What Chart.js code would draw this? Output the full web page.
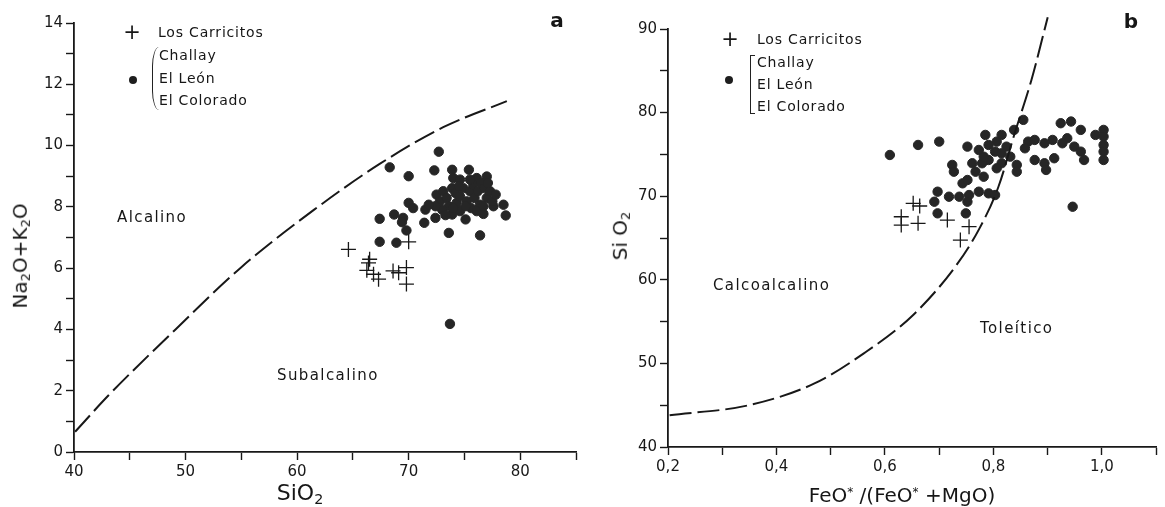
<!DOCTYPE html>
<html>
<head>
<meta charset="utf-8">
<script src="https://cdn.jsdelivr.net/npm/chart.js@4.4.0/dist/chart.umd.min.js"></script>
<style>
    html, body { margin: 0; padding: 0; background: #fff; }
    #wrap { position: relative; width: 1165px; height: 507px; overflow: hidden; font-family: 'DejaVu Sans', sans-serif; color: #161616; }
    .panel { position: absolute; top: 0; height: 507px; }
    #panelA { left: 0; width: 590px; }
    #panelB { left: 590px; width: 575px; }
    .t { position: absolute; white-space: nowrap; line-height: 1; }
    .c { transform: translate(-50%, -50%); }
    .l { transform: translateY(-50%); }
    .r { transform: translate(-50%, -50%) rotate(-90deg); }
    .leg { font-size: 14px; letter-spacing: 0.8px; }
    .zone { font-size: 15px; letter-spacing: 1.4px; }
    .dot { position: absolute; width: 8px; height: 8px; border-radius: 50%; background: #1e1e1e; transform: translate(-50%, -50%); }
    .paren { position: absolute; border-left: 1.5px solid #222; border-radius: 8px 0 0 8px / 22px 0 0 22px; width: 6px; }
    .square { position: absolute; border: 1.5px solid #222; border-right: none; width: 4px; }
    sub { font-size: 0.65em; vertical-align: -0.25em; }
    sup { font-size: 0.6em; vertical-align: 0.5em; }
</style>
</head>
<body>
<div id="wrap">
    <div class="panel" id="panelA"><canvas id="chartA"></canvas></div>
    <div class="panel" id="panelB"><canvas id="chartB"></canvas></div>

    <!-- panel a labels -->
    <div class="t c" style="left:557px; top:20px; font-size:20px; font-weight:bold;">a</div>
    <div class="t c" style="left:132px; top:32px; font-size:21px;">+</div>
    <div class="t l leg" style="left:158px; top:32px;">Los Carricitos</div>
    <div class="paren" style="left:152px; top:47px; height:63px;"></div>
    <div class="t l leg" style="left:159px; top:55px;">Challay</div>
    <div class="t l leg" style="left:159px; top:78px;">El León</div>
    <div class="t l leg" style="left:159px; top:100px;">El Colorado</div>
    <div class="dot" style="left:133px; top:80px;"></div>
    <div class="t l zone" style="left:117px; top:217px;">Alcalino</div>
    <div class="t l zone" style="left:277px; top:375px;">Subalcalino</div>
    <div class="t r" style="left:21px; top:256px; font-size:20px;">Na<sub>2</sub>O+K<sub>2</sub>O</div>
    <div class="t c" style="left:300px; top:494px; font-size:22px;">SiO<sub>2</sub></div>

    <!-- panel b labels -->
    <div class="t c" style="left:1131px; top:21px; font-size:20px; font-weight:bold;">b</div>
    <div class="t c" style="left:730px; top:39px; font-size:21px;">+</div>
    <div class="t l leg" style="left:757px; top:39px;">Los Carricitos</div>
    <div class="square" style="left:750px; top:55px; height:57px;"></div>
    <div class="t l leg" style="left:757px; top:62px;">Challay</div>
    <div class="t l leg" style="left:757px; top:84px;">El León</div>
    <div class="t l leg" style="left:757px; top:106px;">El Colorado</div>
    <div class="dot" style="left:729px; top:80px;"></div>
    <div class="t l zone" style="left:713px; top:285px;">Calcoalcalino</div>
    <div class="t l zone" style="left:980px; top:328px;">Toleítico</div>
    <div class="t r" style="left:621px; top:236px; font-size:20px;">Si O<sub>2</sub></div>
    <div class="t c" style="left:902px; top:495px; font-size:20px;">FeO<sup>*</sup> /(FeO<sup>*</sup> +MgO)</div>
</div>

<script>
// ---- panel a: total alkalis vs silica ----
const carricitosSiO2 = [64.6, 66.4, 66.25, 66.5, 66.85, 67.3, 68.6, 69.1, 69.8, 69.8, 70.0];
const carricitosAlk  = [6.61, 6.17, 5.93, 6.29, 5.80, 5.64, 5.91, 5.85, 6.02, 5.48, 6.86];

const othersSiO2 = [68.3, 70.0, 72.7, 72.3, 73.9, 75.4, 74.0, 74.6, 76.1, 77.0,
                    67.4, 68.7, 69.5, 69.4, 70.0, 70.4, 71.5, 71.4, 69.8, 67.4,
                    68.9, 72.4, 73.6, 73.9, 74.6, 75.1, 76.4, 76.7, 77.6, 78.5,
                    78.7, 73.7, 72.5, 72.8, 73.1, 73.4, 73.6, 73.9, 74.2, 74.3,
                    74.6, 74.9, 75.2, 75.5, 75.8, 75.9, 76.2, 76.4, 76.5, 76.8,
                    77.0, 77.3, 77.5, 77.8, 75.6, 75.1, 76.1, 73.0, 72.4, 74.5,
                    74.0, 75.5, 77.1, 76.7, 71.8, 73.3];
const othersAlk  = [9.29, 9.0, 9.8, 9.19, 9.21, 9.21, 8.94, 8.89, 8.94, 8.99,
                    7.61, 7.75, 7.64, 7.5, 8.13, 7.96, 7.91, 7.48, 7.23, 6.86,
                    6.83, 7.64, 7.15, 7.75, 7.86, 7.59, 7.07, 7.77, 8.02, 8.07,
                    7.72, 4.18, 8.40, 8.18, 8.51, 8.29, 8.02, 8.61, 8.45, 8.13,
                    8.34, 8.61, 8.18, 8.51, 8.72, 8.29, 8.51, 8.07, 8.78, 8.61,
                    8.29, 8.51, 8.18, 8.40, 7.96, 8.02, 7.86, 7.91, 8.02, 8.67,
                    7.96, 8.89, 8.78, 8.02, 8.07, 7.73];

// alkaline / subalkaline divide
const alkLineSiO2 = [40.1, 43.1, 49.1, 54.9, 61.5, 67.4, 73.1, 78.8];
const alkLineAlk  = [0.66, 1.85, 4.0, 6.0, 7.9, 9.4, 10.6, 11.45];

// ---- panel b: SiO2 vs FeO*/(FeO*+MgO) ----
const carricitosFe = [0.652, 0.664, 0.630, 0.630, 0.661, 0.715, 0.755, 0.739];
const carricitosSi = [69.15, 68.83, 67.54, 66.55, 66.75, 67.15, 66.35, 64.75];

const othersFe = [0.609, 0.661, 0.700, 0.752, 0.785, 0.815, 0.838, 0.855, 0.773, 0.806,
                  0.803, 0.791, 0.815, 0.779, 0.761, 0.724, 0.727, 0.743, 0.752, 0.697,
                  0.691, 0.718, 0.737, 0.755, 0.773, 0.791, 0.803, 0.752, 0.697, 0.749,
                  0.843, 0.843, 0.864, 0.876, 0.894, 0.909, 0.924, 0.943, 0.961, 0.936,
                  0.949, 0.961, 0.967, 0.988, 1.003, 1.003, 1.003, 1.003, 1.003, 0.912,
                  0.894, 0.897, 0.876, 0.858, 0.946, 0.927, 0.831, 0.824, 0.791, 0.782,
                  0.815, 0.806, 0.767, 0.782];
const othersSi = [74.93, 76.13, 76.53, 75.93, 77.33, 77.33, 77.93, 79.13, 75.53, 76.53,
                  75.33, 74.33, 73.94, 73.94, 73.94, 73.74, 72.93, 71.54, 71.94, 70.54,
                  69.34, 69.94, 69.94, 70.14, 70.54, 70.34, 70.14, 69.34, 67.95, 67.95,
                  73.74, 72.93, 76.53, 76.73, 76.33, 76.73, 78.73, 78.93, 77.93, 76.93,
                  75.93, 75.33, 74.33, 77.33, 77.93, 77.13, 76.13, 75.33, 74.33, 74.54,
                  73.94, 73.14, 74.33, 75.73, 68.74, 76.33, 74.73, 75.93, 76.13, 74.73,
                  75.13, 73.34, 72.93, 72.33];

// calc-alkaline / tholeiitic divide
const tholLineFe = [0.203, 0.349, 0.470, 0.561, 0.652, 0.730, 0.773, 0.809, 0.839, 0.870, 0.900];
const tholLineSi = [43.8, 45.0, 47.6, 51.2, 55.8, 61.6, 66.0, 71.1, 77.5, 83.9, 91.4];

const INK = '#181818';
const TICK_FONT = { family: 'DejaVu Sans', size: 15 };

function pairs(xs, ys) {
    return xs.map((x, i) => ({ x: x, y: ys[i] }));
}

function axis(min, max, step, label, fitFn) {
    return {
        type: 'linear',
        min: min,
        max: max,
        ticks: { stepSize: step, autoSkip: false, maxRotation: 0, padding: 3, color: INK, font: TICK_FONT, callback: label },
        grid: { drawOnChartArea: false, drawTicks: true, tickLength: 8, tickColor: INK, tickWidth: 1.4 },
        border: { color: INK, width: 1.8 },
        afterFit: fitFn
    };
}

function datasets(plusPts, dotPts, linePts, clipLine) {
    return [
        {
            data: linePts,
            showLine: true,
            pointRadius: 0,
            borderColor: INK,
            borderWidth: 2,
            borderDash: [22, 6],
            tension: 0.4,
            cubicInterpolationMode: 'monotone',
            clip: clipLine
        },
        {
            data: plusPts,
            pointStyle: 'cross',
            pointRadius: 7.5,
            borderColor: INK,
            borderWidth: 1.3
        },
        {
            data: dotPts,
            pointStyle: 'circle',
            pointRadius: 4.7,
            backgroundColor: '#262626',
            borderColor: '#262626',
            borderWidth: 1
        }
    ];
}

const baseOptions = {
    responsive: false,
    animation: false,
    events: [],
    plugins: { legend: { display: false }, tooltip: { enabled: false } }
};

function initChartA() {
    const canvas = document.getElementById('chartA');
    canvas.width = 590;
    canvas.height = 507;
    new Chart(canvas, {
        type: 'scatter',
        data: {
            datasets: datasets(pairs(carricitosSiO2, carricitosAlk), pairs(othersSiO2, othersAlk), pairs(alkLineSiO2, alkLineAlk), true)
        },
        options: Object.assign({}, baseOptions, {
            layout: { padding: { top: 23, right: 14, left: 0, bottom: 0 } },
            scales: {
                x: axis(40, 85, 5, v => (v % 10 === 0 && v <= 80) ? v : '', s => { s.height = 507 - 452; }),
                y: axis(0, 14, 1, v => (v % 2 === 0) ? v : '', s => { s.width = 74; })
            }
        })
    });
}

function initChartB() {
    const canvas = document.getElementById('chartB');
    canvas.width = 575;
    canvas.height = 507;
    new Chart(canvas, {
        type: 'scatter',
        data: {
            datasets: datasets(pairs(carricitosFe, carricitosSi), pairs(othersFe, othersSi), pairs(tholLineFe, tholLineSi), false)
        },
        options: Object.assign({}, baseOptions, {
            layout: { padding: { top: 29, right: 2, left: 0, bottom: 0 } },
            scales: {
                x: axis(0.2, 1.1, 0.1, v => {
                    const r = Math.round(v * 10);
                    return (r % 2 === 0 && r <= 10) ? (r / 10).toFixed(1).replace('.', ',') : '';
                }, s => { s.height = 507 - 447; }),
                y: axis(40, 90, 5, v => (v % 10 === 0) ? v : '', s => { s.width = 78; })
            }
        })
    });
}

initChartA();
initChartB();
</script>
</body>
</html>
